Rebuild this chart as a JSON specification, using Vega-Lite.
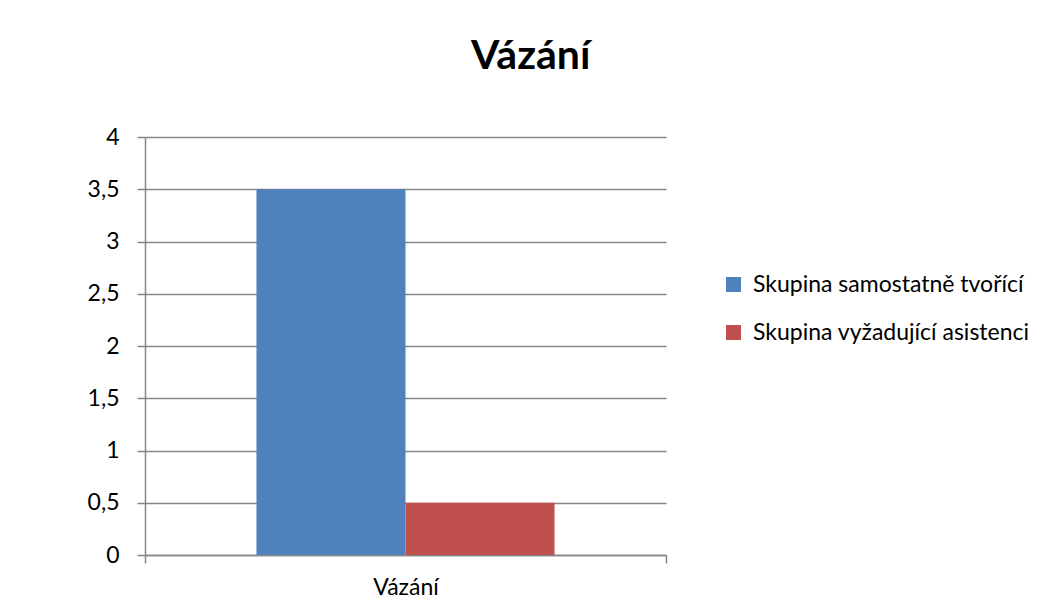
{
  "$schema": "https://vega.github.io/schema/vega-lite/v6.json",
  "autosize": {"type": "none"},
  "width": 521,
  "height": 418,
  "padding": {"left": 145, "top": 137, "right": 388, "bottom": 53},
  "background": "white",
  "title": {
    "text": "Vázání",
    "anchor": "start",
    "frame": "group",
    "dx": 326,
    "baseline": "alphabetic",
    "offset": 16,
    "font": "Lato",
    "fontSize": 41,
    "fontWeight": "bold",
    "color": "black"
  },
  "data": {
    "values": [
      {"kategorie": "Vázání", "skupina": "Skupina samostatně tvořící", "hodnota": 3.5},
      {"kategorie": "Vázání", "skupina": "Skupina vyžadující asistenci", "hodnota": 0.5}
    ]
  },
  "mark": {"type": "bar"},
  "encoding": {
    "x": {
      "field": "kategorie",
      "type": "nominal",
      "title": null,
      "scale": {"paddingInner": 0, "paddingOuter": 0},
      "axis": {
        "labelAngle": 0,
        "labelFont": "Lato",
        "labelFontSize": 23,
        "labelColor": "black",
        "labelPadding": 13,
        "ticks": true,
        "tickBand": "extent",
        "tickSize": 8,
        "tickColor": "#878787",
        "tickWidth": 1.5,
        "domainColor": "#878787",
        "domainWidth": 1.5
      }
    },
    "xOffset": {"field": "skupina", "type": "nominal", "scale": {"paddingInner": 0, "paddingOuter": 0.748}},
    "y": {
      "field": "hodnota",
      "type": "quantitative",
      "title": null,
      "scale": {"domain": [0, 4]},
      "axis": {
        "values": [0, 0.5, 1, 1.5, 2, 2.5, 3, 3.5, 4],
        "labelExpr": "replace(format(datum.value, '~g'), '.', ',')",
        "labelFont": "Lato",
        "labelFontSize": 23,
        "labelColor": "black",
        "labelPadding": 18,
        "tickSize": 8,
        "tickColor": "#878787",
        "tickWidth": 1.5,
        "gridColor": "#878787",
        "gridWidth": 1.5,
        "domainColor": "#878787",
        "domainWidth": 1.5
      }
    },
    "color": {
      "field": "skupina",
      "type": "nominal",
      "scale": {"range": ["#4F81BD", "#C0504D"]},
      "legend": {
        "title": null,
        "orient": "none",
        "legendX": 577,
        "legendY": 136,
        "symbolType": "square",
        "symbolSize": 225,
        "symbolStrokeWidth": 0,
        "labelFont": "Lato",
        "labelFontSize": 23,
        "labelColor": "black",
        "labelLimit": 0,
        "rowPadding": 24,
        "labelOffset": 8
      }
    }
  },
  "config": {
    "view": {"stroke": null}
  }
}
